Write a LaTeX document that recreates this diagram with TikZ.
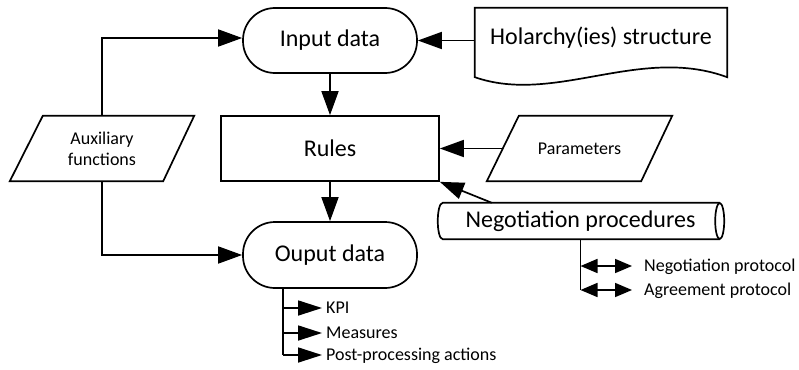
\documentclass[tikz,border=0pt]{standalone}
\usepackage{fontspec}
\setmainfont{Carlito}
\usetikzlibrary{arrows.meta}
\begin{document}
\begin{tikzpicture}[x=1pt,y=-1pt,
  ln/.style={line width=1.7pt},
  arr/.style={ln,-{Triangle[length=24pt,width=17pt]}},
  sarr/.style={ln,-{Triangle[length=24pt,width=15pt]}},
  darr/.style={ln,{Triangle[length=17pt,width=14pt]}-{Triangle[length=17pt,width=14pt]}},
  big/.style={font=\fontsize{24}{28}\selectfont},
  small/.style={font=\fontsize{18}{21}\selectfont},
  stad/.style={draw,ln,rounded corners=32pt,minimum width=174pt,minimum height=65pt,big,inner sep=0pt},
  lab/.style={small,anchor=west,inner sep=4pt,text height=11.5pt,text depth=0pt}
]
\useasboundingbox (0,0) rectangle (799,369);

% nodes
\node[stad] (inp) at (330,40.5) {Input data};
\node[draw,ln,minimum width=218pt,minimum height=65pt,big] (rules) at (330,148.5) {Rules};
\node[stad,minimum height=66pt] (out) at (330,255) {Ouput data};
\node[minimum width=252pt,minimum height=69pt] (hol) at (601,42.5) {};
\node[big] (holt) at (601,38) {Holarchy(ies) structure};
\node[minimum width=185pt,minimum height=65pt,small] (par) at (579.5,148.5) {Parameters};
\node[minimum width=184pt,minimum height=65pt,small,align=center] (aux) at (102,148.5) {Auxiliary\\functions};
\node[minimum width=287pt,minimum height=36pt,big,inner sep=0pt] (neg) at (580.5,221) {Negotiation procedures};

\node[lab] (kpi) at (322,308) {KPI};
\node[lab] (mea) at (322,333) {Measures};
\node[lab] (post) at (322,355) {Post-processing actions};
\node[lab] (np) at (640,266) {Negotiation protocol};
\node[lab] (ap) at (640,290) {Agreement protocol};

% shape outlines
\draw[ln] (hol.south east) .. controls (640,45) and (555,105) .. (hol.south west)
  -- (hol.north west) -- (hol.north east) -- cycle;
\draw[ln] ([xshift=32pt]par.north west) -- (par.north east) -- ([xshift=-31pt]par.south east) -- (par.south west) -- cycle;
\draw[ln] ([xshift=33pt]aux.north west) -- (aux.north east) -- ([xshift=-31pt]aux.south east) -- (aux.south west) -- cycle;
\draw[ln] ([xshift=-4.5pt]neg.north east) -- ([xshift=6pt]neg.north west)
  .. controls ([xshift=-0.7pt]neg.north west) and ([xshift=-0.7pt]neg.south west) .. ([xshift=6pt]neg.south west)
  -- ([xshift=-4.5pt]neg.south east);
\draw[ln] ([xshift=-4.5pt]neg.east) ellipse [x radius=4.5pt, y radius=18pt];

% connectors
\draw[arr] (inp.south) -- (rules.north);
\draw[arr] (rules.south) -- (out.north);
\draw[arr] (hol.west |- inp.east) -- (inp.east);
\draw[arr] ([xshift=16pt]par.west) -- (rules.east);
\draw[arr] ([xshift=55pt]neg.north west) -- (rules.south east);
\draw[arr] (aux.north) |- ([yshift=2.5pt]inp.west);
\draw[arr] (aux.south) |- (out.west);

\coordinate (ostem) at ([xshift=41pt]out.south west);
\draw[ln] (ostem) -- (ostem |- post.west);
\draw[sarr] (ostem |- kpi.west) -- (kpi.west);
\draw[sarr] (ostem |- mea.west) -- (mea.west);
\draw[sarr] (ostem |- post.west) -- (post.west);

\draw[ln] (neg.south) -- (neg.south |- ap.west);
\draw[darr,shorten >=8pt] (neg.south |- np.west) -- (np.west);
\draw[darr,shorten >=8pt] (neg.south |- ap.west) -- (ap.west);
\end{tikzpicture}
\end{document}
